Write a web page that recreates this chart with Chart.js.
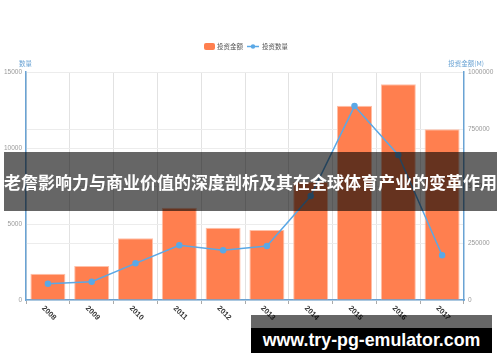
<!DOCTYPE html>
<html>
<head>
<meta charset="utf-8">
<script src="https://cdn.jsdelivr.net/npm/chart.js@4/dist/chart.umd.min.js"></script>
<style>
  html, body { margin: 0; padding: 0; background: #fff; }
  #wrap { position: relative; width: 500px; height: 362px; overflow: hidden; }
  #banner {
    position: absolute; left: 4px; top: 152px; width: 493px; height: 59px;
    background: rgba(0,0,0,0.6); color: #fff;
    font: bold 17px "Noto Sans CJK SC", sans-serif;
    line-height: 59px; text-align: center; white-space: nowrap;
  }
  #stripe { position: absolute; left: 251px; top: 315px; width: 241px; height: 13px; background: rgba(0,0,0,0.6); }
  #site {
    position: absolute; left: 251px; top: 328px; width: 241px; height: 25px;
    background: #000; color: #fff; text-align: center;
    font: bold 17.8px "Liberation Sans", sans-serif; line-height: 25px;
  }
</style>
</head>
<body>
<div id="wrap">
  <canvas id="investChart" width="500" height="362"></canvas>
  <div id="banner">老詹影响力与商业价值的深度剖析及其在全球体育产业的变革作用</div>
  <div id="stripe"></div>
  <div id="site">www.try-pg-emulator.com</div>
</div>
<script>
// chart data
const years = ['2008', '2009', '2010', '2011', '2012', '2013', '2014', '2015', '2016', '2017'];
const amount = [115000, 149000, 271000, 405000, 317000, 307000, 518000, 852000, 946000, 749000]; // 投资金额(M)
const count = [1070, 1200, 2410, 3600, 3270, 3550, 6840, 12760, 9540, 2940]; // 投资数量
const countTicks = [0, 5000, 10000, 15000];
const amountTicks = [0, 250000, 500000, 750000, 1000000];

const barColor = '#ff7f4f';
const lineColor = '#5aa8e6';
const axisColor = '#6aa3d4';

Chart.defaults.font.family = '"Liberation Sans", "Noto Sans CJK SC", sans-serif';

// legend, axis titles and rotated year labels
const extras = {
    id: 'extras',
    afterDraw(chart) {
        const c = chart.ctx;
        const x = chart.scales.x;
        c.save();
        // legend
        c.font = '6.5px "Noto Sans CJK SC", sans-serif';
        c.fillStyle = barColor;
        c.beginPath();
        c.roundRect(204, 43, 11, 7, 2);
        c.fill();
        c.fillStyle = '#555';
        c.textBaseline = 'middle';
        c.fillText('投资金额', 217, 46.5);
        c.strokeStyle = lineColor;
        c.lineWidth = 1.5;
        c.beginPath();
        c.moveTo(247, 46.5);
        c.lineTo(259, 46.5);
        c.stroke();
        c.fillStyle = lineColor;
        c.beginPath();
        c.arc(253, 46.5, 2.2, 0, Math.PI * 2);
        c.fill();
        c.fillStyle = '#555';
        c.fillText('投资数量', 262, 46.5);
        // axis titles
        c.fillStyle = axisColor;
        c.textAlign = 'left';
        c.fillText('数量', 19, 64);
        c.textAlign = 'right';
        c.fillText('投资金额(M)', 484, 64);
        // x labels
        c.fillStyle = '#333';
        c.font = 'bold 7.5px "Liberation Sans", sans-serif';
        c.textAlign = 'center';
        years.forEach((y, i) => {
            const px = x.getPixelForTick(i);
            c.save();
            c.translate(px + 1, 313);
            c.rotate(Math.PI / 4);
            c.fillText(y, 0, 0);
            c.restore();
        });
        c.restore();
    }
};

new Chart(document.getElementById('investChart').getContext('2d'), {
    data: {
        labels: years,
        datasets: [{
            type: 'line',
            label: '投资数量',
            data: count,
            yAxisID: 'y',
            borderColor: lineColor,
            backgroundColor: lineColor,
            borderWidth: 1.5,
            pointRadius: 2.5,
            pointHoverRadius: 2.5,
            tension: 0,
            order: 0
        }, {
            type: 'bar',
            label: '投资金额',
            data: amount,
            yAxisID: 'y1',
            backgroundColor: barColor,
            borderColor: '#ffc0a8',
            borderWidth: 1,
            categoryPercentage: 1,
            barPercentage: 0.8,
            order: 1
        }]
    },
    options: {
        responsive: false,
        animation: false,
        layout: { padding: { top: 72, left: 0, right: 0, bottom: 0 } },
        plugins: { legend: { display: false }, tooltip: { enabled: false } },
        scales: {
            x: {
                grid: { color: '#e2e2e2', tickLength: 4, tickColor: '#aaa' },
                border: { color: axisColor, width: 1.5 },
                ticks: { display: false },
                afterFit: s => { s.height = 62; }
            },
            y: {
                position: 'left',
                min: 0, max: 15000,
                afterBuildTicks: s => { s.ticks = countTicks.map(v => ({ value: v })); },
                grid: { color: '#ececec', tickLength: 0 },
                border: { color: axisColor, width: 1.5 },
                ticks: { color: '#999', font: { size: 6.5 }, padding: 4, callback: v => String(v) },
                afterFit: s => { s.width = 26; }
            },
            y1: {
                position: 'right',
                min: 0, max: 1000000,
                afterBuildTicks: s => { s.ticks = amountTicks.map(v => ({ value: v })); },
                grid: { color: '#ececec', tickLength: 0 },
                border: { color: axisColor, width: 1.5 },
                ticks: { color: '#999', font: { size: 6.5 }, padding: 4, callback: v => String(v) },
                afterFit: s => { s.width = 36; }
            }
        }
    },
    plugins: [extras]
});
</script>
</body>
</html>
